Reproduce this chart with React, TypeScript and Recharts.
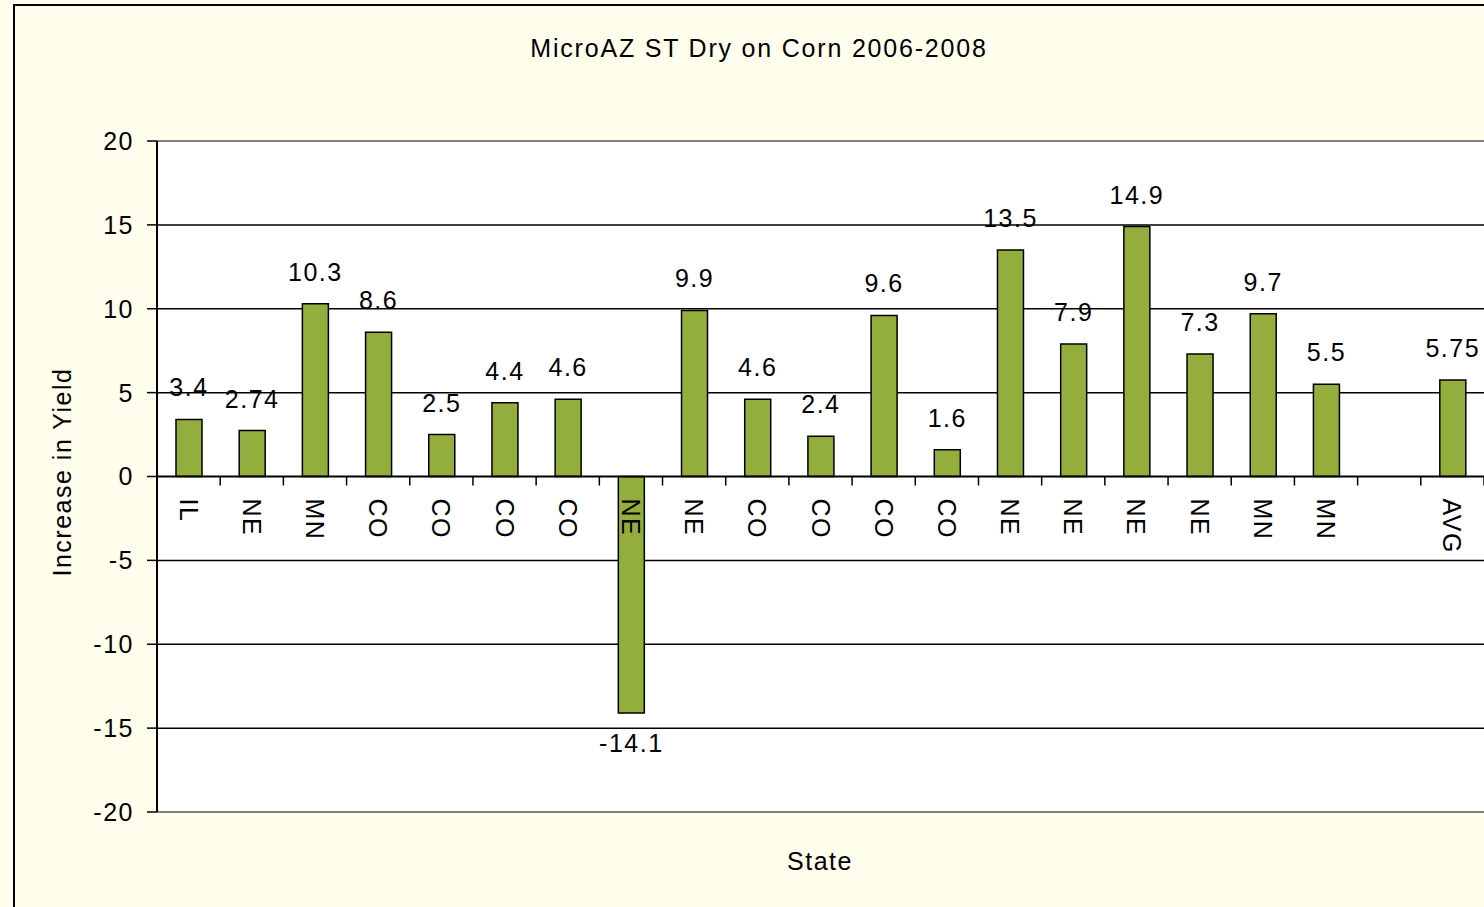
import React from "react";
import { BarChart, Bar, XAxis, YAxis, CartesianGrid, ReferenceLine, LabelList } from "recharts";

const states = ["IL", "NE", "MN", "CO", "CO", "CO", "CO", "NE", "NE", "CO", "CO", "CO", "CO", "NE", "NE", "NE", "NE", "MN", "MN", "", "AVG"];
const yieldIncrease = [3.4, 2.74, 10.3, 8.6, 2.5, 4.4, 4.6, -14.1, 9.9, 4.6, 2.4, 9.6, 1.6, 13.5, 7.9, 14.9, 7.3, 9.7, 5.5, null, 5.75];
const yTicks = [-20, -15, -10, -5, 0, 5, 10, 15, 20];
const innerGrid = [-15, -10, -5, 5, 10, 15];

const data = states.map((s, i) => ({ state: s, value: yieldIncrease[i] }));

const FONT = '"Liberation Sans", Arial, sans-serif';
const W = 1500;
const H = 907;
const TOP = 141;
const BOTTOM = 95;
const LEFT = 157;
const RIGHT = 16;
const plotH = H - TOP - BOTTOM;
const plotW = W - LEFT - RIGHT;
const zeroY = TOP + (plotH * 20) / 40;
const band = plotW / states.length;

const StateTick = (props: any) => {
  const { x, payload } = props;
  return (
    <g>
      <line x1={x + band / 2} x2={x + band / 2} y1={zeroY} y2={zeroY + 9} stroke="#000" strokeWidth={1.5} />
      <text
        transform={`translate(${x},${zeroY + 22}) rotate(90)`}
        textAnchor="start"
        dominantBaseline="central"
        fontSize={25}
        fontFamily={FONT}
        letterSpacing={1.5}
        fill="#000"
      >
        {payload.value}
      </text>
    </g>
  );
};

const ValueLabel = (props: any) => {
  const { x, y, width, height, value } = props;
  if (value === null || value === undefined) return null;
  const top = Math.min(y, y + height);
  const bottom = Math.max(y, y + height);
  const cx = x + width / 2;
  const ty = value >= 0 ? top - 23 : bottom + 39;
  return (
    <text x={cx} y={ty} textAnchor="middle" fontSize={25} fontFamily={FONT} letterSpacing={1.5} fill="#000">
      {value}
    </text>
  );
};

export default function App() {
  return (
    <div style={{ position: "absolute", left: 0, top: 0, width: 1484, height: 907, overflow: "hidden", background: "#FFFEEC", fontFamily: FONT }}>
      <div style={{ position: "absolute", left: 13, top: 4, width: 1520, height: 940, border: "2px solid #000", boxSizing: "border-box" }} />
      <div style={{ position: "absolute", left: 0, top: 0 }}>
        <BarChart width={W} height={H} data={data} margin={{ top: TOP, right: RIGHT, bottom: BOTTOM - 1, left: 0 }} barSize={26}>
          <CartesianGrid horizontal vertical={false} horizontalValues={innerGrid} stroke="#000" strokeWidth={1.5} fill="#fff" />
          <ReferenceLine y={20} stroke="#808080" strokeWidth={2} />
          <ReferenceLine y={-20} stroke="#808080" strokeWidth={2} />
          <YAxis
            width={LEFT}
            domain={[-20, 20]}
            ticks={yTicks}
            interval={0}
            axisLine={{ stroke: "#000", strokeWidth: 2 }}
            tickLine={{ stroke: "#000", strokeWidth: 1.5 }}
            tickSize={10}
            tickMargin={13}
            tick={{ fill: "#000", fontSize: 25, fontFamily: FONT, letterSpacing: 1.5 }}
          />
          <Bar dataKey="value" fill="#94AE3E" stroke="#000" strokeWidth={1.5} isAnimationActive={false}>
            <LabelList dataKey="value" content={ValueLabel} />
          </Bar>
          <ReferenceLine y={0} stroke="#000" strokeWidth={2} />
          <XAxis dataKey="state" height={1} interval={0} axisLine={false} tickLine={false} tick={StateTick} />
        </BarChart>
      </div>
      <div style={{ position: "absolute", left: 0, width: 1518, top: 34, textAlign: "center", fontSize: 25, letterSpacing: 1.8, color: "#000" }}>
        MicroAZ ST Dry on Corn 2006-2008
      </div>
      <div style={{ position: "absolute", left: 0, width: 1640, top: 847, textAlign: "center", fontSize: 25, letterSpacing: 1.5, color: "#000" }}>
        State
      </div>
      <div
        style={{
          position: "absolute",
          left: 62,
          top: 472,
          transform: "translate(-50%, -50%) rotate(-90deg)",
          whiteSpace: "nowrap",
          fontSize: 25,
          letterSpacing: 1.5,
          color: "#000",
        }}
      >
        Increase in Yield
      </div>
    </div>
  );
}
